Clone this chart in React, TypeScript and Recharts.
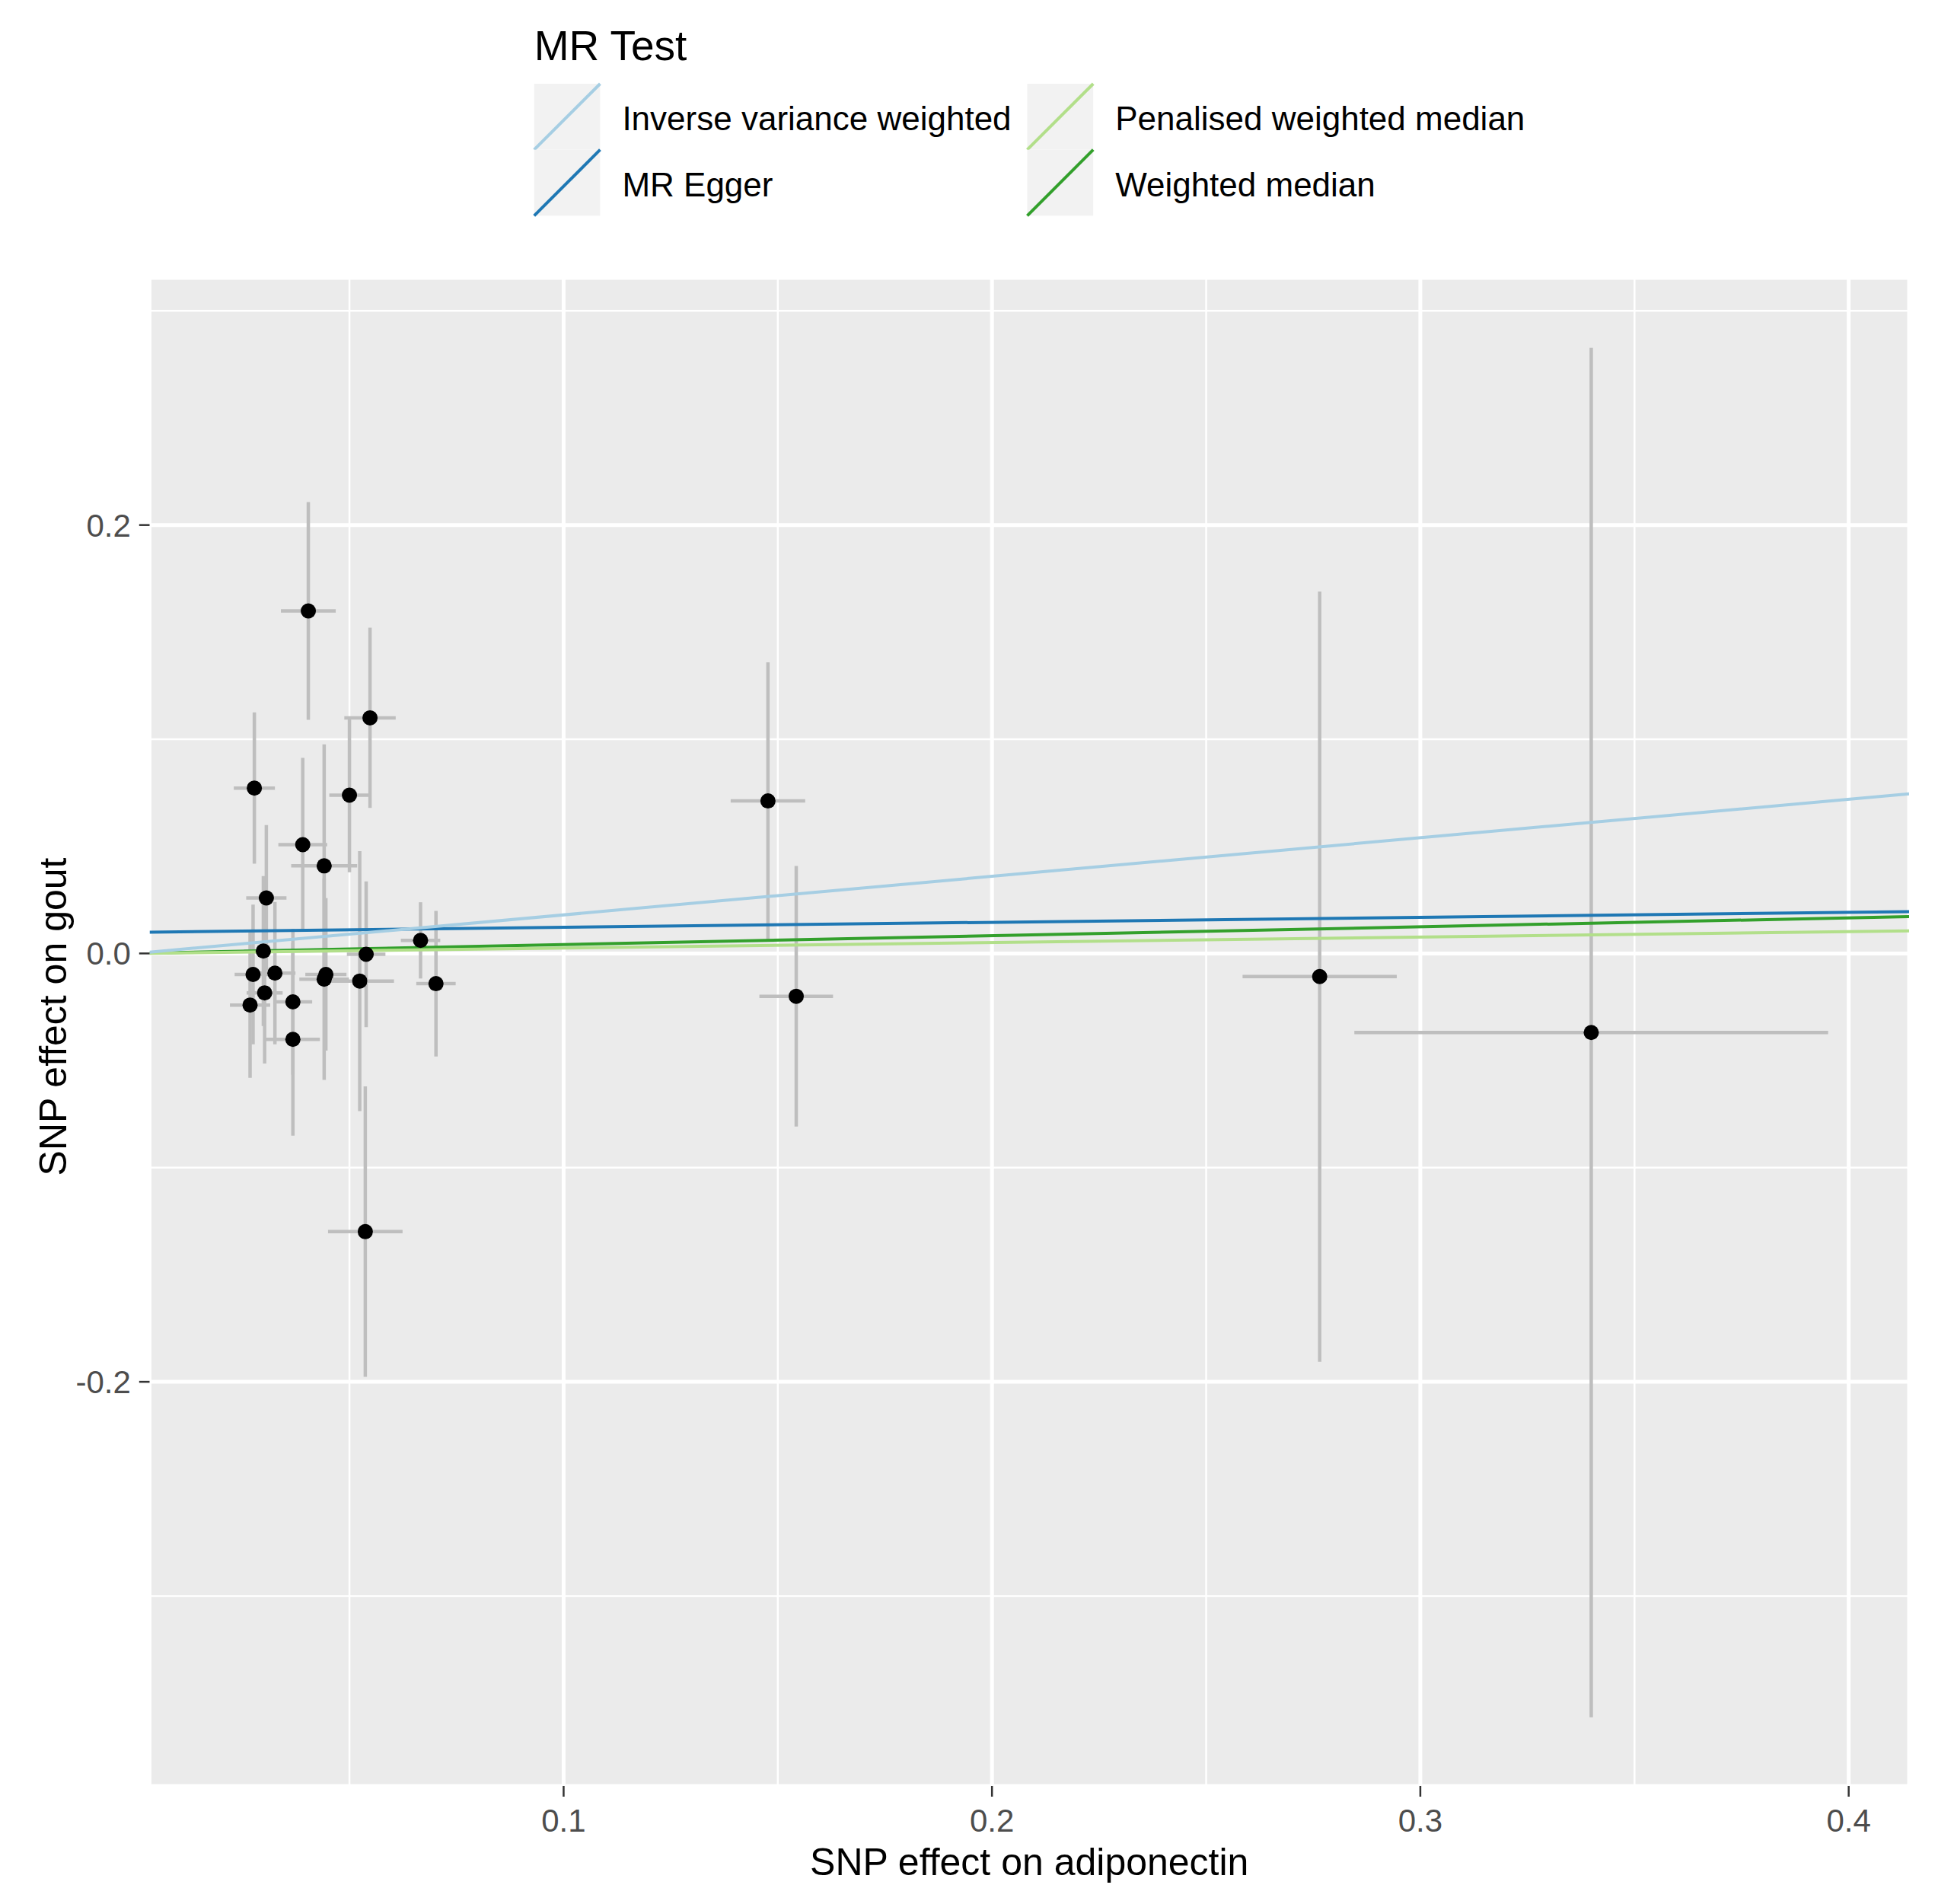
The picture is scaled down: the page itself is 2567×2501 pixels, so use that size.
import React from "react";
import {
  ComposedChart,
  Scatter,
  ErrorBar,
  XAxis,
  YAxis,
  CartesianGrid,
  ReferenceLine,
  Label,
} from "recharts";

// SNP estimates
const SNP_X = [0.0404, 0.0548, 0.0278, 0.05, 0.0391, 0.0441, 0.0306, 0.0299, 0.0539, 0.0666, 0.0275, 0.0326, 0.0445, 0.0441, 0.0524, 0.0702, 0.0302, 0.0268, 0.0368, 0.0368, 0.0537, 0.1477, 0.1543, 0.2765, 0.3399];
const SNP_Y = [0.1599, 0.11, 0.0772, 0.0739, 0.0508, 0.0409, 0.0259, 0.0011, -0.0004, 0.0061, -0.0098, -0.0092, -0.0098, -0.012, -0.0129, -0.0141, -0.0184, -0.0241, -0.0226, -0.0401, -0.1299, 0.0712, -0.02, -0.0108, -0.0369];
const SE_X = [0.0064, 0.006, 0.0048, 0.0047, 0.0057, 0.0077, 0.0047, 0.0045, 0.0045, 0.0046, 0.0043, 0.0048, 0.0048, 0.0058, 0.008, 0.0046, 0.0042, 0.0047, 0.0045, 0.0063, 0.0087, 0.0087, 0.0086, 0.018, 0.0553];
const SE_Y = [0.0508, 0.0421, 0.0353, 0.036, 0.0405, 0.0567, 0.034, 0.035, 0.034, 0.0178, 0.0326, 0.0332, 0.0356, 0.047, 0.0607, 0.034, 0.033, 0.034, 0.034, 0.045, 0.0678, 0.0647, 0.0608, 0.1798, 0.3197];

// MR method fits
const METHODS = ["Inverse variance weighted", "MR Egger", "Penalised weighted median", "Weighted median"];
const SLOPES = [0.18, 0.02345, 0.0254, 0.0415];
const INTERCEPTS = [0, 0.00984, 0, 0];
const COLORS = ["#A6CEE3", "#1F78B4", "#B2DF8A", "#33A02C"];
const DRAW_ORDER = [1, 3, 2, 0];

const X_DOMAIN = [0.00334, 0.4141];
const Y_DOMAIN = [-0.3887, 0.3154];
const X_TICKS = [0.1, 0.2, 0.3, 0.4];
const Y_TICKS = [-0.2, 0, 0.2];
const X_MINOR = [0.05, 0.15, 0.25, 0.35];
const Y_MINOR = [-0.3, -0.1, 0.1, 0.3];

const FONT = '"Liberation Sans", Arial, sans-serif';

const data = SNP_X.map((x, i) => ({ x, y: SNP_Y[i], ex: SE_X[i], ey: SE_Y[i] }));

const Dot = (p: any) => <circle cx={p.cx} cy={p.cy} r={10} fill="#000" />;

function LegendBox() {
  const cols = [
    [0, 1],
    [2, 3],
  ];
  const colX = [701.7, 1349.5];
  const key = 86.7;
  return (
    <svg width={2567} height={300} style={{ position: "absolute", left: 0, top: 0 }}>
      <text x={701.7} y={79} fontSize={55} fontFamily={FONT} fill="#000">
        MR Test
      </text>
      {cols.map((col, ci) =>
        col.map((m, ri) => {
          const x0 = colX[ci];
          const y0 = 110 + ri * key;
          return (
            <g key={m}>
              <rect x={x0} y={y0} width={key} height={key} fill="#F2F2F2" />
              <line x1={x0} y1={y0 + key} x2={x0 + key} y2={y0} stroke={COLORS[m]} strokeWidth={4} />
              <text x={x0 + key + 29} y={y0 + 61} fontSize={44} fontFamily={FONT} fill="#000">
                {METHODS[m]}
              </text>
            </g>
          );
        })
      )}
    </svg>
  );
}

export default function App() {
  return (
    <div style={{ position: "relative", width: 2567, height: 2501, background: "#fff" }}>
      <style>{"body{margin:0}"}</style>
      <ComposedChart
        width={2567}
        height={2501}
        data={data}
        margin={{ top: 365, right: 59, bottom: 0, left: 0 }}
      >
        <CartesianGrid fill="#EBEBEB" stroke="none" />
        {X_MINOR.map((v) => (
          <ReferenceLine key={`mx${v}`} x={v} stroke="#FFFFFF" strokeWidth={2.5} />
        ))}
        {Y_MINOR.map((v) => (
          <ReferenceLine key={`my${v}`} y={v} stroke="#FFFFFF" strokeWidth={2.5} />
        ))}
        <CartesianGrid stroke="#FFFFFF" strokeWidth={5} />
        <XAxis
          type="number"
          dataKey="x"
          domain={X_DOMAIN}
          ticks={X_TICKS}
          allowDataOverflow
          height={155}
          axisLine={false}
          tickSize={14}
          tickMargin={16}
          tickLine={{ stroke: "#333333", strokeWidth: 2.5 }}
          tick={{ fill: "#4D4D4D", fontSize: 42, fontFamily: FONT }}
          tickFormatter={(v: number) => v.toFixed(1)}
        >
          <Label
            content={({ viewBox }: any) => (
              <text
                x={viewBox.x + viewBox.width / 2}
                y={viewBox.y + 117}
                textAnchor="middle"
                fontSize={50}
                fontFamily={FONT}
                fill="#000"
              >
                SNP effect on adiponectin
              </text>
            )}
          />
        </XAxis>
        <YAxis
          type="number"
          dataKey="y"
          domain={Y_DOMAIN}
          ticks={Y_TICKS}
          allowDataOverflow
          width={196.5}
          axisLine={false}
          tickSize={13.7}
          tickMargin={11}
          tickLine={{ stroke: "#333333", strokeWidth: 2.5 }}
          tick={{ fill: "#4D4D4D", fontSize: 42, fontFamily: FONT }}
          tickFormatter={(v: number) => v.toFixed(1)}
        >
          <Label
            content={({ viewBox }: any) => {
              const cx = viewBox.x + 87;
              const cy = viewBox.y + viewBox.height / 2 - 20;
              return (
                <text
                  x={cx}
                  y={cy}
                  transform={`rotate(-90 ${cx} ${cy})`}
                  textAnchor="middle"
                  fontSize={50}
                  fontFamily={FONT}
                  fill="#000"
                >
                  SNP effect on gout
                </text>
              );
            }}
          />
        </YAxis>
        <Scatter dataKey="y" shape={Dot} isAnimationActive={false}>
          <ErrorBar dataKey="ey" direction="y" width={0} stroke="#BEBEBE" strokeWidth={4.5} isAnimationActive={false} />
          <ErrorBar dataKey="ex" direction="x" width={0} stroke="#BEBEBE" strokeWidth={4.5} isAnimationActive={false} />
        </Scatter>
        {DRAW_ORDER.map((m) => (
          <ReferenceLine
            key={m}
            segment={[
              { x: X_DOMAIN[0], y: INTERCEPTS[m] + SLOPES[m] * X_DOMAIN[0] },
              { x: X_DOMAIN[1], y: INTERCEPTS[m] + SLOPES[m] * X_DOMAIN[1] },
            ]}
            stroke={COLORS[m]}
            strokeWidth={4}
            ifOverflow="hidden"
          />
        ))}
      </ComposedChart>
      <LegendBox />
    </div>
  );
}
